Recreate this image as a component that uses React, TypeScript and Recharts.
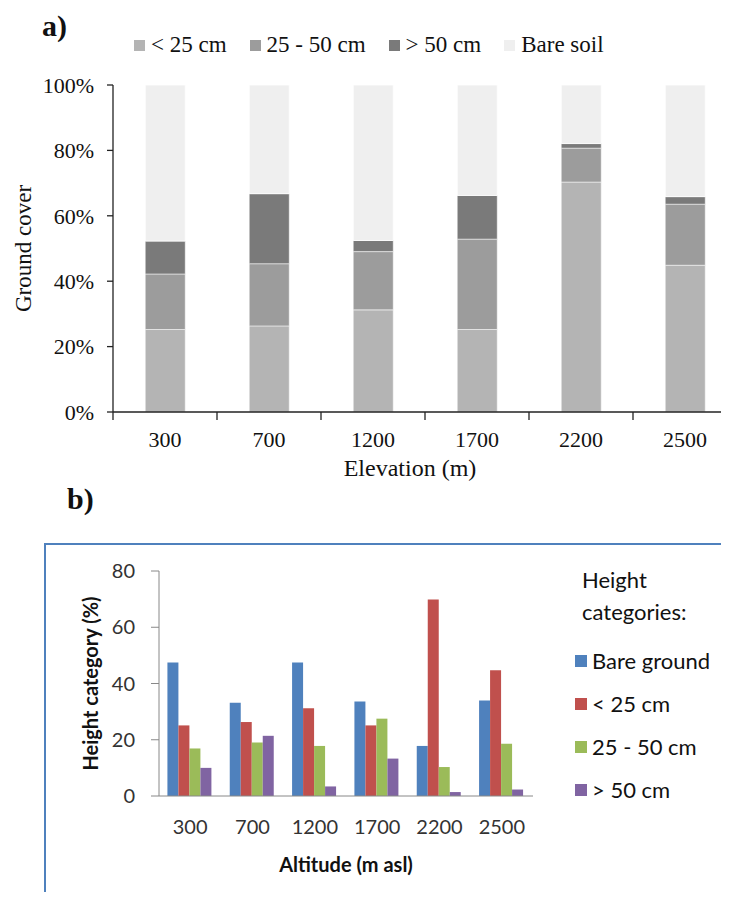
import { BarChart, Bar, XAxis, YAxis, Legend } from 'recharts'

const elevations = ['300', '700', '1200', '1700', '2200', '2500']
const bareGround = [47.5, 33.2, 47.5, 33.6, 17.8, 34.0]
const under25 = [25.1, 26.3, 31.2, 25.1, 69.9, 44.7]
const from25to50 = [16.9, 19.0, 17.8, 27.5, 10.3, 18.6]
const over50 = [10.0, 21.4, 3.4, 13.3, 1.4, 2.3]

const coverTicks = [0, 0.2, 0.4, 0.6, 0.8, 1]
const heightTicks = [0, 20, 40, 60, 80]

const topOrder = ['under25', 'mid', 'over50', 'bare']
const bottomOrder = ['bare', 'under25', 'mid', 'over50']

const rows = elevations.map((elev, i) => ({
  elev,
  bare: bareGround[i],
  under25: under25[i],
  mid: from25to50[i],
  over50: over50[i],
}))

const SERIF = '"Liberation Serif", "Times New Roman", serif'
const SANS = 'Lato, "Open Sans", sans-serif'

// top chart geometry
const TOP_W = 760
const TOP_H = 500
const TOP_MARGIN = { top: 85, right: 23, left: 0, bottom: 18 }
const TOP_Y_W = 113
const TOP_TICK = 8
const TOP_TICK_GAP = 11
const band = (TOP_W - TOP_MARGIN.left - TOP_MARGIN.right - TOP_Y_W) / elevations.length

function ElevTick(props: any) {
  const { x, y, payload, index } = props
  const y0 = y - TOP_TICK - TOP_TICK_GAP
  return (
    <g>
      <line x1={x - band / 2} x2={x - band / 2} y1={y0} y2={y0 + TOP_TICK} stroke="#222" strokeWidth={1.3} />
      {index === elevations.length - 1 && (
        <line x1={x + band / 2} x2={x + band / 2} y1={y0} y2={y0 + TOP_TICK} stroke="#222" strokeWidth={1.3} />
      )}
      <text x={x} y={y} dy="0.71em" textAnchor="middle" fontSize={22} fontFamily={SERIF} fill="#111">
        {payload.value}
      </text>
    </g>
  )
}

function TopLegend({ payload }: any) {
  return (
    <div style={{ display: 'flex', paddingLeft: 134, fontFamily: SERIF, fontSize: 23, lineHeight: '24px', color: '#111' }}>
      {(payload || []).map((p: any) => (
        <span key={p.value} style={{ display: 'flex', alignItems: 'center', marginRight: 23 }}>
          <span style={{ width: 11, height: 11, background: p.color, marginRight: 6, display: 'inline-block' }} />
          <span>{p.value}</span>
        </span>
      ))}
    </div>
  )
}

function BottomLegend({ payload }: any) {
  return (
    <div style={{ fontFamily: SANS, fontSize: 22, color: '#111' }}>
      <div style={{ paddingLeft: 7, lineHeight: '32px' }}>
        Height
        <br />
        categories:
      </div>
      <div style={{ marginTop: 11 }}>
        {(payload || []).map((p: any) => (
          <div key={p.value} style={{ display: 'flex', alignItems: 'center', height: 43 }}>
            <span style={{ width: 12, height: 12, background: p.color, marginRight: 5, display: 'inline-block' }} />
            <span>{p.value}</span>
          </div>
        ))}
      </div>
    </div>
  )
}

export default function App() {
  return (
    <div style={{ position: 'relative', margin: -8, width: 729, height: 900, overflow: 'hidden', background: '#fff' }}>
      <div style={{ position: 'absolute', left: 42, top: 9, fontFamily: SERIF, fontWeight: 'bold', fontSize: 30, color: '#111' }}>a)</div>
      <div style={{ position: 'absolute', left: 67, top: 482, fontFamily: SERIF, fontWeight: 'bold', fontSize: 30, color: '#111' }}>b)</div>

      <div style={{ position: 'absolute', left: 0, top: 0, width: 729, height: TOP_H, overflow: 'hidden' }}>
        <BarChart width={TOP_W} height={TOP_H} data={rows} stackOffset="expand" barCategoryGap="31%" margin={TOP_MARGIN}>
          <XAxis
            dataKey="elev"
            height={70}
            interval={0}
            tickLine={false}
            tickSize={TOP_TICK}
            tickMargin={TOP_TICK_GAP}
            axisLine={{ stroke: '#222', strokeWidth: 1.3 }}
            tick={(p: any) => <ElevTick {...p} />}
            label={{ value: 'Elevation (m)', position: 'insideBottom', offset: 6, dx: -15, fontSize: 24, fontFamily: SERIF, fill: '#111' }}
          />
          <YAxis
            width={TOP_Y_W}
            domain={[0, 1]}
            ticks={coverTicks}
            interval={0}
            tickFormatter={(v: number) => `${Math.round(v * 100)}%`}
            tickSize={6}
            tickMargin={13}
            axisLine={{ stroke: '#222', strokeWidth: 1.3 }}
            tickLine={{ stroke: '#222', strokeWidth: 1.3 }}
            tick={{ fill: '#111', fontSize: 22, fontFamily: SERIF }}
            label={{ value: 'Ground cover', angle: -90, position: 'center', dx: -34, fontSize: 23, fontFamily: SERIF, fill: '#111' }}
          />
          <Legend
            verticalAlign="middle"
            align="center"
            content={TopLegend}
            itemSorter={(item: any) => topOrder.indexOf(item.dataKey)}
            wrapperStyle={{ top: 33, left: 0, width: 729 }}
          />
          <Bar dataKey="under25" name="< 25 cm" stackId="g" fill="#b4b4b4" stroke="#ffffff" strokeOpacity={0.5} isAnimationActive={false} />
          <Bar dataKey="mid" name="25 - 50 cm" stackId="g" fill="#9c9c9c" stroke="#ffffff" strokeOpacity={0.5} isAnimationActive={false} />
          <Bar dataKey="over50" name="> 50 cm" stackId="g" fill="#7a7a7a" stroke="#ffffff" strokeOpacity={0.5} isAnimationActive={false} />
          <Bar dataKey="bare" name="Bare soil" stackId="g" fill="#efefef" stroke="#ffffff" strokeOpacity={0.8} isAnimationActive={false} />
        </BarChart>
      </div>

      <div style={{ position: 'absolute', left: 44, top: 543, width: 700, height: 400, borderTop: '2px solid #4f81bd', borderLeft: '2px solid #4f81bd' }} />

      <div style={{ position: 'absolute', left: 0, top: 540 }}>
        <BarChart width={729} height={360} data={rows} barCategoryGap="13.5%" barGap={0} margin={{ top: 31, right: 196, left: 0, bottom: 24 }}>
          <XAxis
            dataKey="elev"
            height={80}
            interval={0}
            tickLine={false}
            tickSize={0}
            tickMargin={24}
            axisLine={{ stroke: '#888' }}
            tick={{ fill: '#333', fontSize: 20, fontFamily: SANS }}
            label={{ value: 'Altitude (m asl)', position: 'insideBottom', offset: 4, fontSize: 20, fontWeight: 'bold', fontFamily: SANS, fill: '#111' }}
          />
          <YAxis
            width={159}
            domain={[0, 80]}
            ticks={heightTicks}
            interval={0}
            tickSize={8}
            tickMargin={16}
            axisLine={{ stroke: '#888' }}
            tickLine={{ stroke: '#888' }}
            tick={{ fill: '#333', fontSize: 20, fontFamily: SANS }}
            label={{ value: 'Height category (%)', angle: -90, position: 'center', dx: 11, fontSize: 20, fontWeight: 'bold', fontFamily: SANS, fill: '#111' }}
          />
          <Legend
            verticalAlign="middle"
            align="center"
            content={BottomLegend}
            itemSorter={(item: any) => bottomOrder.indexOf(item.dataKey)}
            wrapperStyle={{ top: 24, left: 575, width: 150 }}
          />
          <Bar dataKey="bare" name="Bare ground" fill="#4f81bd" isAnimationActive={false} />
          <Bar dataKey="under25" name="< 25 cm" fill="#c0504d" isAnimationActive={false} />
          <Bar dataKey="mid" name="25 - 50 cm" fill="#9bbb59" isAnimationActive={false} />
          <Bar dataKey="over50" name="> 50 cm" fill="#8064a2" isAnimationActive={false} />
        </BarChart>
      </div>
    </div>
  )
}
